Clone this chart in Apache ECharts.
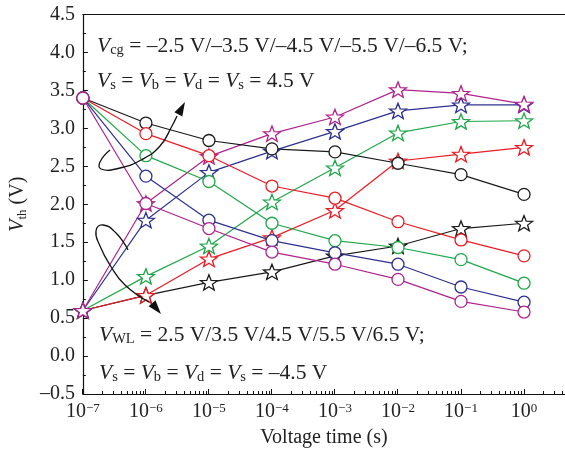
<!DOCTYPE html>
<html>
<head>
<meta charset="utf-8">
<script src="https://cdn.jsdelivr.net/npm/echarts@6/dist/echarts.min.js"></script>
<style>
html, body { margin: 0; padding: 0; background: #fff; }
#chart { width: 565px; height: 456px; }
</style>
</head>
<body>
<div id="chart"></div>
<script>
// voltage time (s)
var times = [1e-7, 1e-6, 1e-5, 1e-4, 1e-3, 1e-2, 1e-1, 1];

// circles: Vcg = -2.5 / -3.5 / -4.5 / -5.5 / -6.5 V
var circleBlack   = [3.40, 3.07, 2.84, 2.73, 2.69, 2.54, 2.39, 2.13];
var circleRed     = [3.40, 2.93, 2.64, 2.24, 2.08, 1.77, 1.53, 1.32];
var circleGreen   = [3.40, 2.64, 2.30, 1.75, 1.52, 1.43, 1.27, 0.96];
var circleBlue    = [3.40, 2.37, 1.79, 1.52, 1.36, 1.21, 0.91, 0.71];
var circleMagenta = [3.40, 2.01, 1.68, 1.37, 1.21, 1.01, 0.72, 0.58];

// stars: VWL = 2.5 / 3.5 / 4.5 / 5.5 / 6.5 V
var starBlack   = [0.60, 0.80, 0.97, 1.11, 1.32, 1.45, 1.68, 1.75];
var starRed     = [0.60, 0.80, 1.28, 1.56, 1.92, 2.57, 2.66, 2.75];
var starGreen   = [0.60, 1.05, 1.45, 2.03, 2.48, 2.94, 3.09, 3.10];
var starBlue    = [0.60, 1.79, 2.42, 2.70, 2.96, 3.23, 3.31, 3.31];
var starMagenta = [0.60, 2.01, 2.63, 2.93, 3.15, 3.51, 3.46, 3.32];

// x tick labels are powers of ten
var xDecades = [-7, -6, -5, -4, -3, -2, -1, 0];

var FONT = 'Liberation Serif';
var TXT = '#222';
var colors = { black: '#1a1a1a', red: '#ed1c24', green: '#1fa84a', blue: '#2e3192', magenta: '#b0238e' };

var starPath = 'path://M50 0 L62.34 33.01 L97.55 34.55 L69.97 56.49 L79.39 90.45 L50 71 L20.61 90.45 L30.03 56.49 L2.45 34.55 L37.66 33.01 Z';

var minorExps = [];
xDecades.forEach(function (d) {
    for (var k = 2; k <= 9; k++) {
        var e = d + Math.log10(k);
        if (e <= 0.65) minorExps.push(e);
    }
});

function mkSeries(vals, color, symbol, size) {
    return {
        type: 'line',
        data: times.map(function (t, i) { return [Math.log10(t), vals[i]]; }),
        symbol: symbol,
        symbolSize: size,
        symbolKeepAspect: true,
        showAllSymbol: true,
        lineStyle: { color: color, width: 1.2 },
        itemStyle: { color: '#fff', borderColor: color, borderWidth: 1.3 },
        emphasis: { disabled: true },
        animation: false
    };
}

function supLabel(v) {
    var e = Math.round(v);
    return '{b|10}{s|' + (e < 0 ? '\u2212' + (-e) : e) + '}';
}

var textRich = {
    i: { fontFamily: FONT, fontSize: 21.5, fontStyle: 'italic', lineHeight: 24, fill: TXT, color: TXT },
    t: { fontFamily: FONT, fontSize: 21.5, lineHeight: 24, fill: TXT, color: TXT },
    sub: { fontFamily: FONT, fontSize: 14.5, lineHeight: 8, verticalAlign: 'bottom', fill: TXT, color: TXT }
};

function annot(x, y, text) {
    return {
        type: 'text', left: x, top: y, z: 50,
        style: { text: text, rich: textRich, fontFamily: FONT, fontSize: 21.5, fill: TXT }
    };
}

function arrow(points, tip, from) {
    var dx = tip[0] - from[0], dy = tip[1] - from[1];
    var len = Math.sqrt(dx * dx + dy * dy);
    dx /= len; dy /= len;
    var bx = tip[0] - dx * 14, by = tip[1] - dy * 14;
    var nx = -dy * 4.5, ny = dx * 4.5;
    return [
        { type: 'polyline', z: 40, shape: { points: points, smooth: 0.5 },
          style: { stroke: '#111', lineWidth: 1.3, fill: null } },
        { type: 'polygon', z: 40, shape: { points: [tip, [bx + nx, by + ny], [bx - nx, by - ny]] },
          style: { fill: '#111' } }
    ];
}

var chart = echarts.init(document.getElementById('chart'));

var option = {
    backgroundColor: '#fff',
    animation: false,
    grid: [
        { left: 82, right: 0, top: 14.5, bottom: 62 },
        { left: 82, right: 0, top: 14.5, bottom: 62 }
    ],
    xAxis: [
        {
            type: 'value', gridIndex: 0, position: 'bottom',
            min: -7, max: 0.65,
            axisLine: { onZero: false, lineStyle: { color: '#111', width: 1.2 } },
            axisTick: { inside: true, length: 3, customValues: minorExps, lineStyle: { color: '#111', width: 1 } },
            axisLabel: {
                customValues: xDecades, margin: 8, formatter: supLabel,
                rich: {
                    b: { fontFamily: FONT, fontSize: 20, lineHeight: 20, color: TXT },
                    s: { fontFamily: FONT, fontSize: 13, lineHeight: 11, verticalAlign: 'top', color: TXT }
                }
            },
            splitLine: { show: false },
            name: 'Voltage time (s)', nameLocation: 'middle', nameGap: 34,
            nameTextStyle: { fontFamily: FONT, fontSize: 20, color: TXT }
        },
        {
            type: 'value', gridIndex: 0, position: 'top',
            min: -7, max: 0.65,
            axisLine: { onZero: false, lineStyle: { color: '#111', width: 1.2 } },
            axisTick: { show: false }, axisLabel: { show: false }, splitLine: { show: false }
        },
        {
            type: 'value', gridIndex: 1, position: 'bottom',
            min: -7, max: 0.65,
            axisLine: { show: false, onZero: false },
            axisTick: { inside: true, length: 5, customValues: xDecades, lineStyle: { color: '#111', width: 1 } },
            axisLabel: { show: false }, splitLine: { show: false }
        }
    ],
    yAxis: [
        {
            type: 'value', gridIndex: 0,
            min: -0.5, max: 4.5, interval: 0.5,
            axisLine: { show: true, onZero: false, lineStyle: { color: '#111', width: 1.2 } },
            axisTick: { inside: true, length: 5, lineStyle: { color: '#111', width: 1 } },
            minorTick: { show: true, splitNumber: 2, length: 3, lineStyle: { color: '#111', width: 1 } },
            axisLabel: {
                margin: 8, fontFamily: FONT, fontSize: 20, color: TXT,
                formatter: function (v) { return v.toFixed(1).replace('-', '\u2013'); }
            },
            splitLine: { show: false },
            name: '{i|V}{sub|th} (V)', nameLocation: 'middle', nameGap: 46, nameRotate: 90,
            nameTextStyle: {
                fontFamily: FONT, fontSize: 20, color: TXT,
                rich: {
                    i: { fontFamily: FONT, fontSize: 20, fontStyle: 'italic', lineHeight: 22, color: TXT },
                    sub: { fontFamily: FONT, fontSize: 13, lineHeight: 8, verticalAlign: 'bottom', color: TXT }
                }
            }
        },
        {
            type: 'value', gridIndex: 1, min: -0.5, max: 4.5, show: false,
            axisLine: { show: false, onZero: false }
        }
    ],
    series: [
        mkSeries(starBlack, colors.black, starPath, [17, 16]),
        mkSeries(starRed, colors.red, starPath, [17, 16]),
        mkSeries(starGreen, colors.green, starPath, [17, 16]),
        mkSeries(starBlue, colors.blue, starPath, [17, 16]),
        mkSeries(starMagenta, colors.magenta, starPath, [17, 16]),
        mkSeries(circleBlack, colors.black, 'circle', 12),
        mkSeries(circleRed, colors.red, 'circle', 12),
        mkSeries(circleGreen, colors.green, 'circle', 12),
        mkSeries(circleBlue, colors.blue, 'circle', 12),
        mkSeries(circleMagenta, colors.magenta, 'circle', 12)
    ],
    graphic: [
        annot(97, 35, '{i|V}{sub|cg}{t| = \u20132.5 V/\u20133.5 V/\u20134.5 V/\u20135.5 V/\u20136.5 V;}'),
        annot(97, 70, '{i|V}{sub|s}{t| = }{i|V}{sub|b}{t| = }{i|V}{sub|d}{t| = }{i|V}{sub|s}{t| = 4.5 V}'),
        annot(99, 324, '{i|V}{sub|WL}{t| = 2.5 V/3.5 V/4.5 V/5.5 V/6.5 V;}'),
        annot(99, 362, '{i|V}{sub|s}{t| = }{i|V}{sub|b}{t| = }{i|V}{sub|d}{t| = }{i|V}{sub|s}{t| = \u20134.5 V}')
    ].concat(
        arrow([[110, 150], [100, 162], [101, 169], [118, 168.5], [141, 160], [160, 146], [172, 126], [177, 116]],
              [185, 102], [178, 115]),
        arrow([[128, 250], [116, 233], [103, 225], [96, 231], [100, 246], [110, 265], [125, 285], [149, 302]],
              [161, 314], [151, 302])
    )
};

chart.setOption(option);
</script>
</body>
</html>
